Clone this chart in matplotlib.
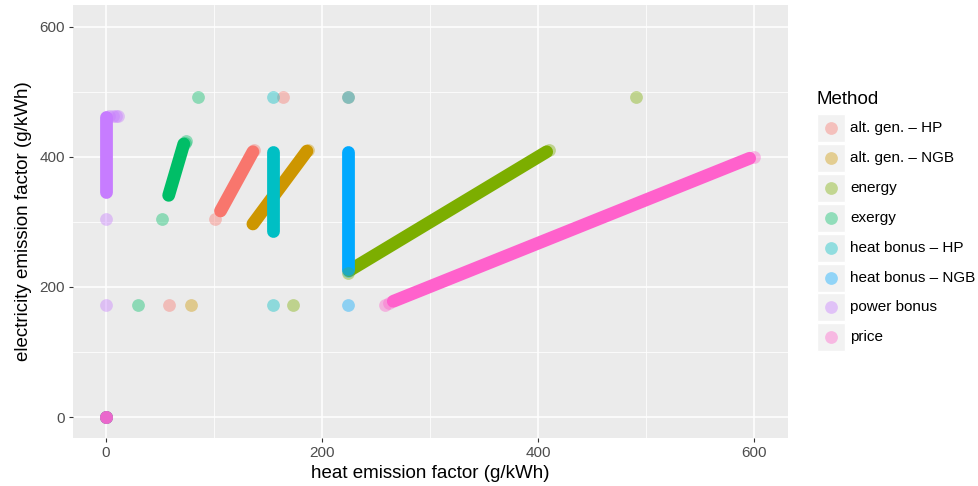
import numpy as np
import matplotlib
matplotlib.use('Agg')
import matplotlib.pyplot as plt
from matplotlib.patches import Rectangle
from matplotlib.lines import Line2D

plt.rcParams['font.family'] = ['Liberation Sans', 'DejaVu Sans']

methods = ["alt. gen. \u2013 HP", "alt. gen. \u2013 NGB", "energy", "exergy",
           "heat bonus \u2013 HP", "heat bonus \u2013 NGB", "power bonus", "price"]
colors = ["#F8766D", "#CD9600", "#7CAE00", "#00BE67",
          "#00BFC4", "#00A9FF", "#C77CFF", "#FF61CC"]

# dense runs of points (start / end of each band)
seg_x0 = [106, 136, 225, 58, 155, 224, 0, 266]
seg_x1 = [136, 186, 408, 72, 155, 224, 0, 596]
seg_y0 = [317, 297, 225, 341, 286, 228, 346, 178]
seg_y1 = [408, 409, 408, 420, 408, 408, 462, 398]

# isolated points per method
pts_x = {
    "alt. gen. \u2013 HP": [0, 58, 101, 164, 137],
    "alt. gen. \u2013 NGB": [0, 79, 224, 187],
    "energy": [0, 173, 224, 491, 410],
    "exergy": [0, 30, 52, 85, 73, 74],
    "heat bonus \u2013 HP": [0, 155, 155],
    "heat bonus \u2013 NGB": [0, 224, 224, 224],
    "power bonus": [0, 0, 0, 3, 6, 9, 11],
    "price": [0, 0, 0, 0, 258, 262, 600],
}
pts_y = {
    "alt. gen. \u2013 HP": [0, 172, 304, 493, 410],
    "alt. gen. \u2013 NGB": [0, 172, 493, 411],
    "energy": [0, 172, 221, 493, 410],
    "exergy": [0, 172, 304, 493, 422, 425],
    "heat bonus \u2013 HP": [0, 172, 493],
    "heat bonus \u2013 NGB": [0, 172, 225, 493],
    "power bonus": [0, 172, 304, 463, 463, 463, 463],
    "price": [0, 0, 0, 0, 172, 175, 400],
}

fig = plt.figure(figsize=(9.79, 4.86), dpi=100)
ax = fig.add_axes([73/979, 1-438/486, (788-73)/979, (438-5)/486])
ax.set_facecolor('#EBEBEB')

ms = 9.2
for i, m in enumerate(methods):
    ax.plot([seg_x0[i], seg_x1[i]], [seg_y0[i], seg_y1[i]], color=colors[i],
            lw=ms, solid_capstyle='round', zorder=2 + i * 0.01)
    ax.scatter(pts_x[m], pts_y[m], s=ms**2, color=colors[i], alpha=0.4,
               linewidths=0, zorder=3)

ax.set_xlim(-30.6, 631.5)
ax.set_ylim(-32.3, 633.8)
ax.set_xticks([0, 200, 400, 600])
ax.set_yticks([0, 200, 400, 600])
ax.set_xticks([100, 300, 500], minor=True)
ax.set_yticks([100, 300, 500], minor=True)
ax.grid(which='major', color='white', lw=1.1, zorder=0)
ax.grid(which='minor', color='white', lw=0.55, zorder=0)
ax.set_axisbelow(True)
for s in ax.spines.values():
    s.set_visible(False)
ax.tick_params(which='major', length=3, color='#333333', labelsize=11,
               labelcolor='#4D4D4D', pad=3)
ax.tick_params(which='minor', length=0)
ax.set_xlabel("heat emission factor (g/kWh)", fontsize=13.5, labelpad=3)
ax.set_ylabel("electricity emission factor (g/kWh)", fontsize=13.5, labelpad=5)

# legend drawn in figure pixels
fig.text(817/979, 1-99/486, "Method", fontsize=13.5, va='center', ha='left')
for i, m in enumerate(methods):
    yc = 128 + i * 29.9
    fig.add_artist(Rectangle((817/979, 1-(yc+14)/486), 28/979, 28/486,
                             transform=fig.transFigure, facecolor='#F2F2F2',
                             edgecolor='white', lw=1))
    fig.add_artist(Line2D([831/979], [1-yc/486], transform=fig.transFigure,
                          marker='o', ms=ms, color=colors[i], alpha=0.4,
                          markeredgewidth=0, ls='none'))
    fig.text(850/979, 1-yc/486, m, fontsize=11, va='center', ha='left')

fig.savefig('out.png', dpi=100)
